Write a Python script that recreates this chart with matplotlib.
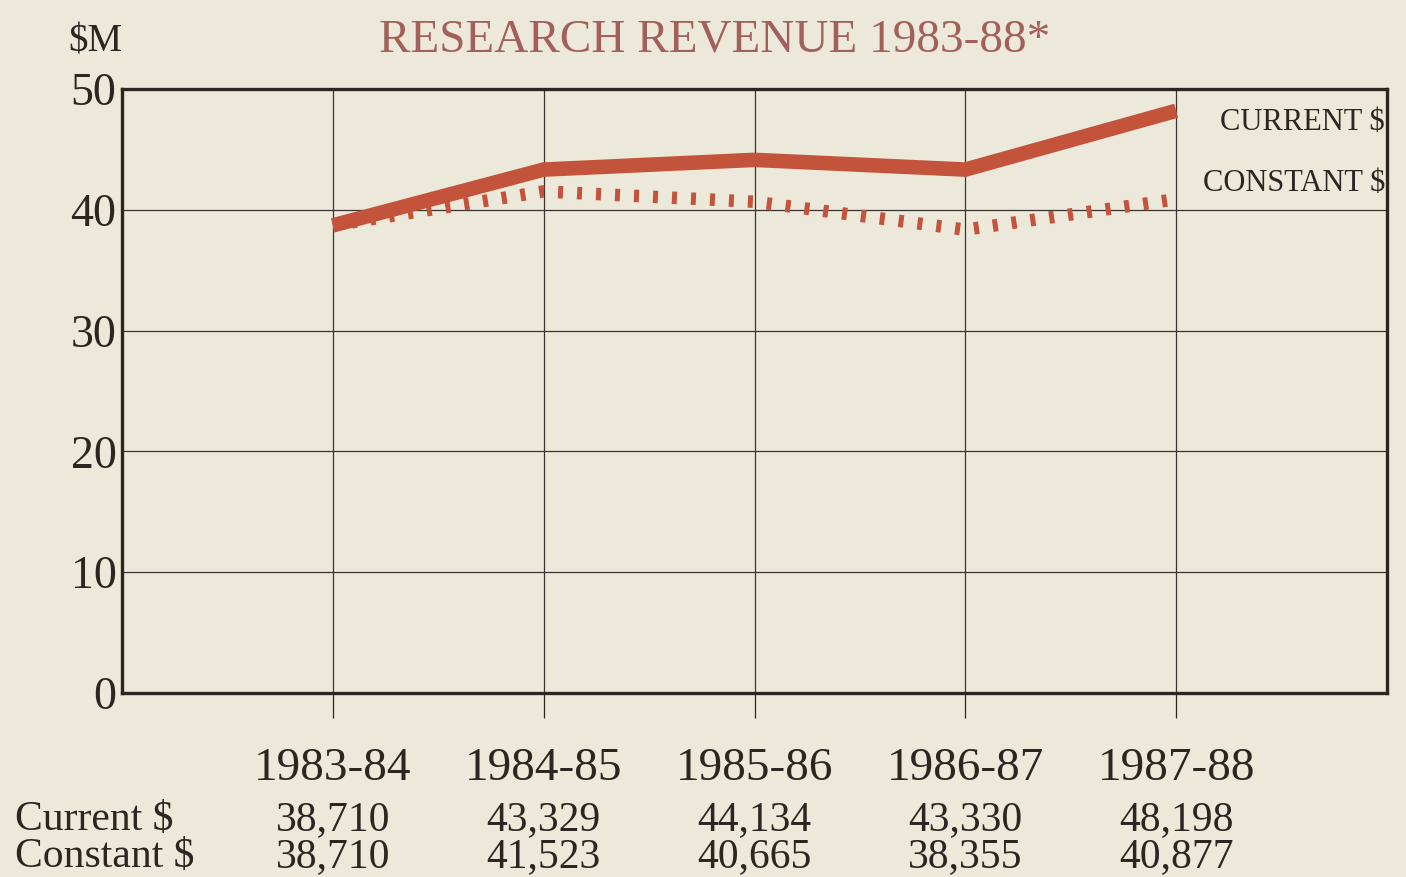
import matplotlib
matplotlib.use("Agg")
import matplotlib.pyplot as plt
import matplotlib.transforms as mtransforms

categories = ["1983-84", "1984-85", "1985-86", "1986-87", "1987-88"]
current_k = [38710, 43329, 44134, 43330, 48198]
constant_k = [38710, 41523, 40665, 38355, 40877]
current_labels = ["38,710", "43,329", "44,134", "43,330", "48,198"]
constant_labels = ["38,710", "41,523", "40,665", "38,355", "40,877"]
yticks = [0, 10, 20, 30, 40, 50]

BG = "#ece9da"
RED = "#c4533b"
TITLE = "#a3605a"
INK = "#2b2622"
FONT = ["Liberation Serif", "DejaVu Serif"]

plt.rcParams["font.family"] = FONT

fig = plt.figure(figsize=(14.06, 8.77), dpi=100, facecolor=BG)
ax = fig.add_axes([122 / 1406, 1 - 693 / 877, (1387 - 122) / 1406, (693 - 89) / 877])
ax.set_facecolor(BG)

x = list(range(len(categories)))
cur = [v / 1000 for v in current_k]
con = [v / 1000 for v in constant_k]

ax.plot(x, con, color=RED, lw=9, linestyle=(0, (0.4, 1.12)),
        dash_capstyle="butt", zorder=3)
ax.plot(x, cur, color=RED, lw=10.5, solid_capstyle="butt", solid_joinstyle="miter", zorder=4)

ax.set_xlim(-1, 5)
ax.set_ylim(0, 50)
ax.set_yticks(yticks)
ax.set_yticklabels([str(v) for v in yticks], fontsize=33, color=INK)
ax.tick_params(axis="y", length=0, pad=4)
ax.set_xticks(x)
ax.set_xticklabels(categories, fontsize=34, color=INK)
ax.tick_params(axis="x", direction="out", length=18, width=0.9, color=INK, pad=21)

ax.grid(True, color="#3a3532", lw=0.9)
ax.set_axisbelow(True)
for s in ax.spines.values():
    s.set_linewidth(2.4)
    s.set_color(INK)

# legend-like labels
ax.text(0.9985, 0.945, "CURRENT $", transform=ax.transAxes, ha="right", va="center",
        fontsize=22, color=INK)
ax.text(0.9985, 0.843, "CONSTANT $", transform=ax.transAxes, ha="right", va="center",
        fontsize=22, color=INK)

fig.text(715 / 1406, 1 - 40 / 877, "RESEARCH REVENUE 1983-88*", ha="center", va="center",
         fontsize=34, color=TITLE)
fig.text(68 / 1406, 1 - 42 / 877, "$M", ha="left", va="center", fontsize=28, color=INK)

trans = mtransforms.blended_transform_factory(ax.transData, fig.transFigure)
fig.text(15 / 1406, 1 - 820 / 877, "Current $", ha="left", va="center", fontsize=30, color=INK)
fig.text(15 / 1406, 1 - 857 / 877, "Constant $", ha="left", va="center", fontsize=30, color=INK)
for i in x:
    ax.text(i, 1 - 820 / 877, current_labels[i], transform=trans, ha="center", va="center",
            fontsize=30, color=INK)
    ax.text(i, 1 - 857 / 877, constant_labels[i], transform=trans, ha="center", va="center",
            fontsize=30, color=INK)

fig.savefig("out.png", dpi=100, facecolor=BG)
